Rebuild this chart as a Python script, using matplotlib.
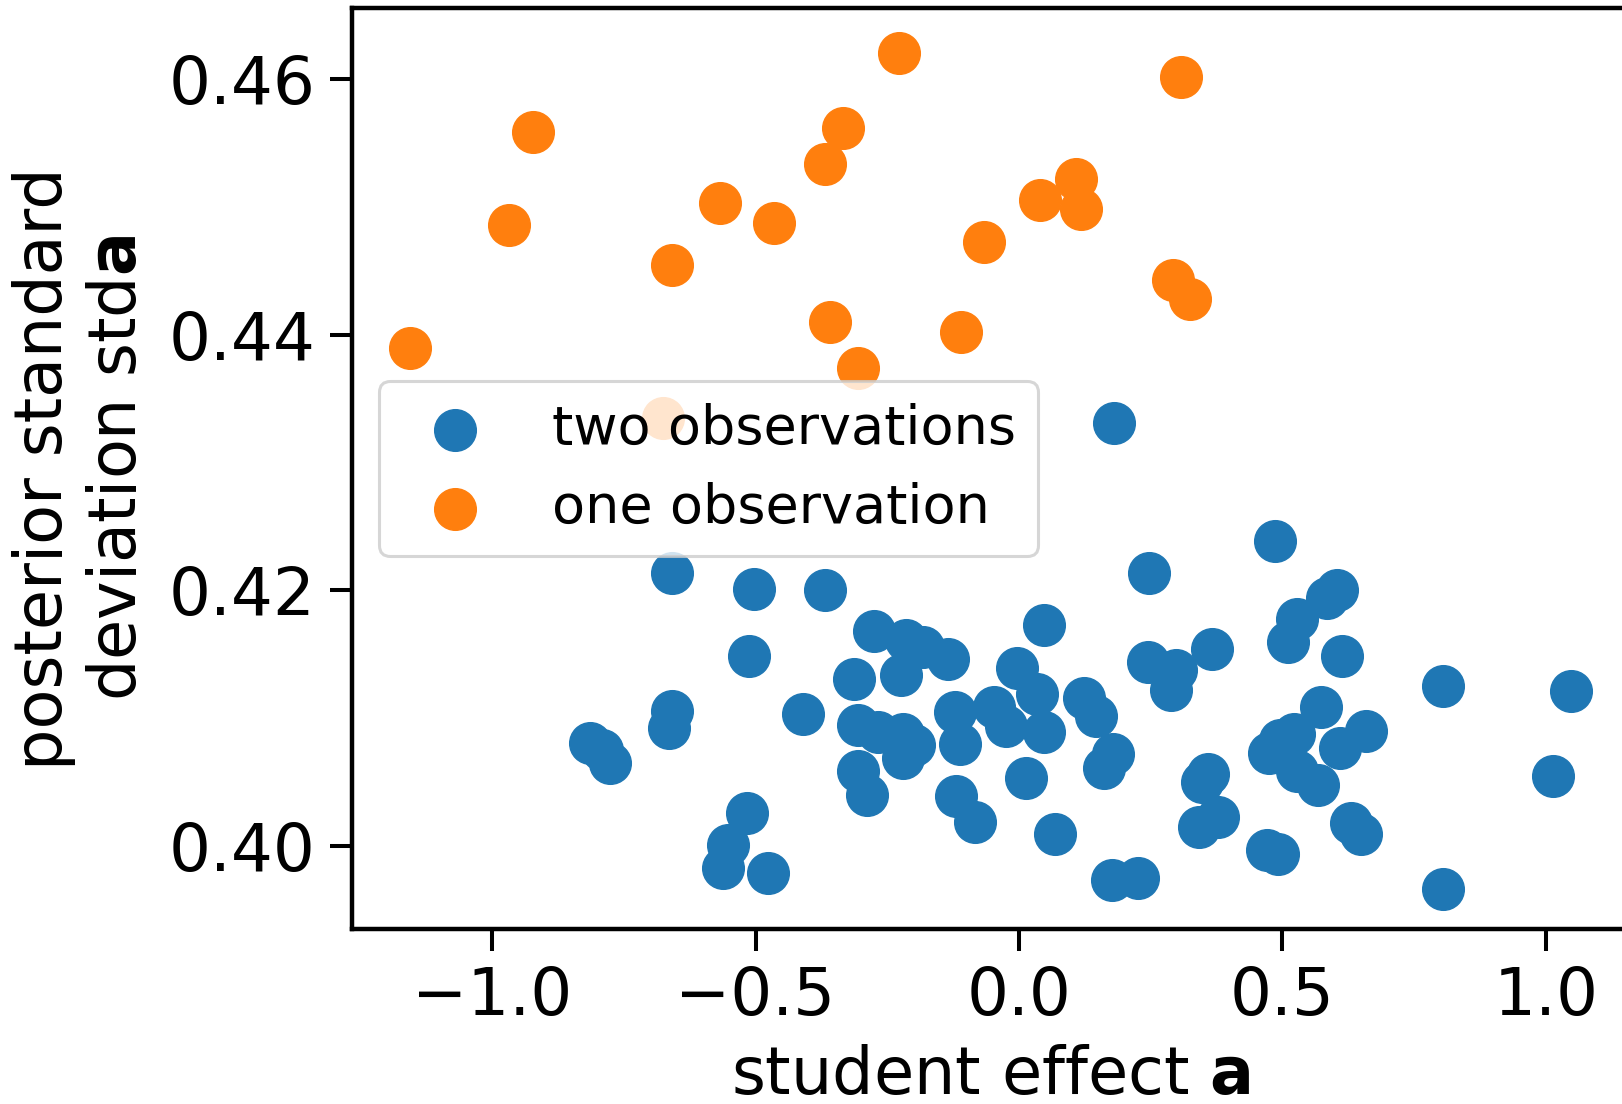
import matplotlib
matplotlib.use("Agg")
import matplotlib.pyplot as plt

# student effect a and posterior std
two_obs_x = [-0.658, -0.502, -0.368, -0.512, -0.276, -0.214, -0.182, -0.223, -0.314,
             -0.658, -0.665, -0.409, -0.814, -0.792, -0.776, -0.306, -0.267, -0.220,
             -0.200, -0.221, -0.306, -0.289, -0.517, -0.553, -0.561, -0.476,
             0.247, 0.486, 0.047, -0.134, -0.003, 0.035, -0.121, -0.047, -0.025,
             0.047, -0.112, 0.123, 0.147, 0.179, 0.161, 0.013, -0.120, -0.083,
             0.068, 0.176, 0.226, 0.245, 0.299, 0.288, 0.366, 0.359, 0.347,
             0.378, 0.342, 0.470, 0.492, 0.603, 0.584, 0.527, 0.511, 0.614,
             0.804, 1.047, 1.014, 0.805, 0.573, 0.522, 0.495, 0.474, 0.658,
             0.609, 0.527, 0.568, 0.631, 0.650, 0.180]
two_obs_y = [0.4214, 0.4201, 0.4200, 0.4149, 0.4168, 0.4161, 0.4156, 0.4134, 0.4131,
             0.4106, 0.4092, 0.4103, 0.4081, 0.4075, 0.4065, 0.4095, 0.4089, 0.4088,
             0.4079, 0.4069, 0.4059, 0.4040, 0.4026, 0.4001, 0.3983, 0.3979,
             0.4214, 0.4239, 0.4173, 0.4146, 0.4139, 0.4119, 0.4105, 0.4109, 0.4094,
             0.4089, 0.4080, 0.4116, 0.4102, 0.4072, 0.4061, 0.4053, 0.4039, 0.4019,
             0.4009, 0.3973, 0.3975, 0.4144, 0.4138, 0.4122, 0.4154, 0.4056, 0.4050,
             0.4023, 0.4015, 0.3997, 0.3994, 0.4200, 0.4194, 0.4178, 0.4160, 0.4149,
             0.4125, 0.4121, 0.4055, 0.3966, 0.4109, 0.4088, 0.4083, 0.4073, 0.4090,
             0.4077, 0.4059, 0.4048, 0.4018, 0.4009, 0.4331]

one_obs_x = [-1.156, -0.968, -0.923, -0.676, -0.658, -0.567, -0.465, -0.369, -0.334,
             -0.359, -0.306, -0.228, -0.110, -0.067, 0.039, 0.108, 0.118, 0.292,
             0.324, 0.308]
one_obs_y = [0.4390, 0.4486, 0.4559, 0.4335, 0.4455, 0.4503, 0.4488, 0.4534, 0.4562,
             0.4410, 0.4374, 0.4621, 0.4402, 0.4473, 0.4506, 0.4522, 0.4499, 0.4443,
             0.4428, 0.4602]

xticks = [-1.0, -0.5, 0.0, 0.5, 1.0]
yticks = [0.40, 0.42, 0.44, 0.46]

fig = plt.figure(figsize=(16.22, 11.04), dpi=100)
# axes run past the right edge of the figure, as in the reference
ax = fig.add_axes([0.217, 0.1585, 0.788, 0.8343])

ax.scatter(two_obs_x, two_obs_y, s=900, color="#1f77b4", label="two observations")
ax.scatter(one_obs_x, one_obs_y, s=900, color="#ff7f0e", label="one observation")

ax.set_xlim(-1.266, 1.16)
ax.set_ylim(0.3935, 0.4656)
ax.set_xticks(xticks)
ax.set_yticks(yticks)
ax.set_yticklabels([f"{t:.2f}" for t in yticks])

ax.tick_params(labelsize=47.5, length=16, width=2.9, pad=10)
for sp in ax.spines.values():
    sp.set_linewidth(3.2)

ax.set_xlabel("student effect $\\mathbf{a}$", fontsize=47, labelpad=11)
ax.set_ylabel("posterior standard\ndeviation std$\\mathbf{a}$", fontsize=47, labelpad=14)

leg = ax.legend(loc="center left", fontsize=39)
leg.get_frame().set_linewidth(2.2)

fig.savefig("out.png", dpi=100)
plt.close(fig)
